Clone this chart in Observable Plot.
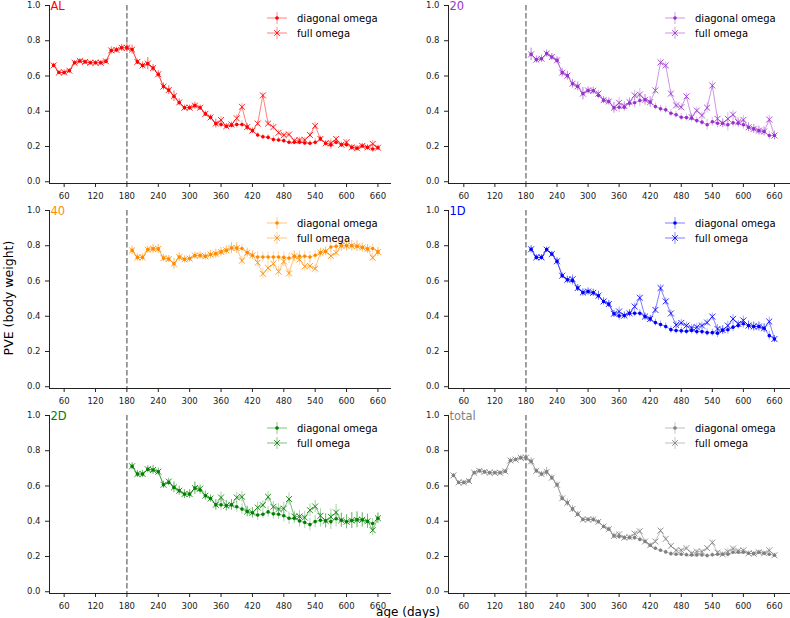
<!DOCTYPE html>
<html><head><meta charset="utf-8">
<script src="https://cdn.jsdelivr.net/npm/d3@7"></script>
<script src="https://cdn.jsdelivr.net/npm/@observablehq/plot@0.6"></script>
<style>
body{margin:0;background:#fff;font-family:"DejaVu Sans",sans-serif;}
#fig{position:relative;width:790px;height:618px;overflow:hidden;}
.panel{position:absolute;}
#ylab{position:absolute;left:8px;top:298px;transform:translate(-50%,-50%) rotate(-90deg);font-size:12.5px;line-height:13px;white-space:nowrap;color:#000;}
#xlab{position:absolute;left:408px;top:611.5px;transform:translate(-50%,-50%);font-size:12px;line-height:11px;white-space:nowrap;color:#000;}
</style></head><body><div id="fig"><div id="ylab">PVE (body weight)</div><div id="xlab">age (days)</div></div>
<script>
const agesAll = [40,50,60,70,80,90,100,110,120,130,140,150,160,170,180,190,200,210,220,230,240,250,260,270,280,290,300,310,320,330,340,350,360,370,380,390,400,410,420,430,440,450,460,470,480,490,500,510,520,530,540,550,560,570,580,590,600,610,620,630,640,650,660];
const agesLate = [190,200,210,220,230,240,250,260,270,280,290,300,310,320,330,340,350,360,370,380,390,400,410,420,430,440,450,460,470,480,490,500,510,520,530,540,550,560,570,580,590,600,610,620,630,640,650,660];
const xTicks = [60,120,180,240,300,360,420,480,540,600,660];
const yTicks = [0,0.2,0.4,0.6,0.8,1.0];
const seriesNames = ["diagonal omega","full omega"];

const diagAL = [.66,.62,.62,.63,.675,.685,.68,.675,.675,.675, .683,.745,.748,.76,.76,.75,.68,.66,.67,.645, .61,.54,.52,.485,.45,.42,.42,.432,.42,.385, .365,.33,.325,.315,.32,.325,.325,.31,.29,.265, .255,.252,.24,.237,.233,.224,.224,.224,.22,.218, .224,.243,.218,.209,.224,.21,.21,.195,.19,.203, .195,.186,.193];
const fullAL = [.66,.62,.62,.63,.675,.685,.68,.675,.675,.675, .683,.745,.748,.76,.76,.75,.68,.66,.67,.645, .61,.54,.52,.485,.45,.42,.42,.432,.42,.385, .365,.33,.35,.315,.325,.36,.425,.31,.29,.33, .49,.33,.31,.278,.265,.268,.233,.237,.237,.265, .317,.243,.218,.218,.243,.21,.224,.195,.19,.203, .195,.215,.193];
const errAL = [.012,.01,.015,.012,.012,.012,.01,.01,.012,.012, .012,.02,.015,.02,.025,.025,.015,.02,.035,.02, .02,.02,.025,.03,.02,.015,.015,.02,.015,.015, .015,.025,.02,.015,.015,.02,.02,.02,.015,.015, .015,.015,.02,.015,.015,.015,.015,.015,.015,.015, .02,.015,.015,.025,.015,.015,.015,.015,.015,.015, .015,.02,.015];

const diag20 = [.723,.693,.698,.727,.708,.689,.619,.602,.556,.541, .50,.518,.516,.49,.463,.455,.42,.423,.423,.446, .448,.461,.465,.452,.427,.414,.408,.389,.38,.366, .364,.36,.347,.338,.323,.34,.332,.332,.323,.334, .332,.323,.309,.30,.29,.285,.262,.262];
const full20 = [.723,.693,.698,.727,.708,.689,.619,.602,.556,.541, .50,.518,.516,.50,.463,.455,.42,.448,.43,.452, .49,.495,.465,.452,.518,.677,.66,.50,.433,.423, .484,.366,.404,.376,.42,.546,.357,.332,.357,.381, .338,.351,.309,.30,.29,.285,.353,.262];
const err20 = [.035,.02,.02,.02,.02,.02,.025,.025,.025,.025, .035,.02,.02,.02,.02,.02,.03,.03,.025,.025, .03,.035,.03,.03,.02,.02,.02,.02,.02,.02, .02,.02,.02,.02,.03,.025,.025,.025,.035,.025, .025,.025,.025,.025,.025,.025,.025,.025];

const diag40 = [.774,.734,.734,.778,.782,.782,.73,.725,.698,.736, .723,.727,.744,.744,.74,.75,.755,.765,.774,.787, .787,.784,.761,.746,.736,.736,.736,.736,.736,.734, .73,.74,.74,.74,.736,.746,.761,.768,.793,.797, .80,.80,.80,.797,.79,.782,.784,.765];
const full40 = [.774,.734,.734,.778,.782,.782,.73,.725,.698,.736, .723,.727,.744,.744,.74,.75,.755,.765,.774,.787, .787,.715,.761,.746,.704,.641,.674,.698,.653,.711, .643,.74,.721,.683,.685,.67,.761,.768,.742,.761, .80,.80,.80,.797,.79,.782,.732,.765];
const err40 = [.025,.02,.02,.02,.025,.025,.02,.02,.03,.025, .02,.02,.02,.02,.02,.025,.025,.025,.025,.03, .03,.025,.025,.025,.03,.03,.03,.03,.03,.03, .03,.03,.03,.03,.03,.025,.025,.025,.03,.03, .03,.03,.03,.03,.025,.025,.025,.025];

const diag1D = [.78,.734,.734,.778,.753,.712,.63,.607,.602,.56, .535,.54,.533,.516,.484,.469,.414,.402,.404,.417, .417,.417,.398,.385,.364,.353,.342,.324,.319,.317, .315,.319,.313,.313,.307,.307,.304,.321,.323,.338, .347,.357,.347,.342,.342,.332,.29,.271];
const full1D = [.78,.734,.734,.778,.753,.712,.63,.607,.61,.56, .535,.54,.533,.516,.484,.469,.414,.427,.404,.417, .455,.505,.398,.385,.436,.56,.484,.416,.351,.362, .347,.334,.338,.347,.364,.398,.328,.321,.347,.385, .357,.376,.347,.342,.342,.332,.37,.271];
const err1D = [.02,.015,.015,.015,.015,.02,.015,.02,.025,.02, .02,.02,.02,.025,.02,.02,.02,.025,.02,.02, .02,.02,.02,.02,.02,.02,.02,.02,.02,.02, .02,.02,.02,.02,.02,.02,.025,.025,.025,.025, .02,.025,.025,.025,.025,.025,.025,.02];

const diag2D = [.712,.668,.668,.695,.691,.681,.607,.62,.592,.573, .554,.554,.588,.577,.545,.529,.493,.493,.488,.493, .482,.469,.455,.448,.435,.44,.453,.442,.44,.431, .417,.417,.402,.393,.381,.398,.406,.402,.398,.414, .406,.397,.404,.408,.408,.40,.387,.417];
const full2D = [.712,.668,.668,.695,.691,.681,.607,.625,.592,.573, .554,.554,.588,.585,.545,.529,.493,.535,.488,.493, .535,.539,.455,.448,.478,.491,.539,.482,.469,.472, .526,.427,.427,.421,.463,.484,.431,.402,.425,.45, .406,.397,.404,.408,.408,.40,.349,.417];
const err2D = [.02,.02,.02,.02,.025,.02,.02,.02,.03,.025, .025,.025,.035,.025,.025,.02,.03,.03,.03,.03, .03,.03,.03,.03,.03,.025,.03,.03,.03,.035, .035,.03,.035,.035,.035,.035,.04,.04,.045,.045, .04,.04,.045,.045,.04,.04,.03,.03];

const diagTotal = [.66,.62,.62,.628,.675,.686,.68,.675,.675,.675, .683,.745,.75,.76,.76,.74,.686,.668,.68,.647, .607,.53,.505,.47,.44,.41,.41,.41,.397,.37, .355,.317,.313,.307,.307,.307,.297,.285,.264,.247, .235,.226,.216,.213,.213,.21,.209,.209,.209,.205, .21,.213,.213,.213,.224,.224,.224,.218,.216,.224, .218,.213,.207];
const fullTotal = [.66,.62,.62,.628,.675,.686,.68,.675,.675,.675, .683,.745,.75,.76,.76,.74,.686,.668,.68,.647, .607,.53,.505,.47,.44,.41,.41,.41,.397,.37, .355,.317,.326,.307,.31,.33,.343,.285,.264,.285, .347,.3,.26,.235,.235,.247,.218,.228,.228,.247, .279,.222,.213,.228,.245,.232,.235,.218,.216,.224, .218,.235,.207];
const errTotal = [.01,.01,.012,.01,.01,.01,.01,.01,.01,.01, .01,.015,.012,.015,.02,.02,.012,.015,.025,.015, .015,.015,.02,.02,.015,.012,.012,.015,.012,.012, .012,.015,.015,.012,.012,.015,.015,.012,.012,.012, .012,.012,.015,.012,.012,.012,.012,.012,.012,.012, .015,.012,.012,.02,.012,.012,.012,.012,.012,.012, .012,.015,.012];

const panels = [
  {name:"AL", color:"#ff0000", ages:agesAll, diag:diagAL, full:fullAL, err:errAL, col:0, row:0},
  {name:"20", color:"#9932cc", ages:agesLate, diag:diag20, full:full20, err:err20, col:1, row:0},
  {name:"40", color:"#ff8c00", ages:agesLate, diag:diag40, full:full40, err:err40, col:0, row:1},
  {name:"1D", color:"#0000ff", ages:agesLate, diag:diag1D, full:full1D, err:err1D, col:1, row:1},
  {name:"2D", color:"#008000", ages:agesLate, diag:diag2D, full:full2D, err:err2D, col:0, row:2},
  {name:"total", color:"#808080", ages:agesAll, diag:diagTotal, full:fullTotal, err:errTotal, col:1, row:2}
];

const fig = document.getElementById("fig");
for (const p of panels) {
  const data = p.ages.map((a,i)=>({age:a, d:p.diag[i], f:p.full[i], e:p.err[i]}));
  const left = p.col === 0;
  const svg = Plot.plot({
    width: 395, height: 205,
    marginLeft: left ? 49 : 53, marginRight: left ? 5 : 0,
    marginTop: 5, marginBottom: 22,
    style: {fontFamily: "DejaVu Sans", fontSize: "8.5px", overflow: "visible", background: "transparent", color: "#222"},
    x: {domain: left ? [32,684] : [30.4,691], ticks: xTicks, tickSize: 4, tickFormat: d=>String(d), label: null, line: true},
    y: {domain: [-0.01, 1.0], ticks: yTicks, tickFormat: ".1f", tickSize: 4, label: null, line: true},
    marks: [
      Plot.ruleX([180], {stroke:"#808080", strokeWidth:1.5, strokeDasharray:"5.5,2.5"}),
      Plot.ruleX(data, {x:"age", y1:d=>d.d-d.e, y2:d=>d.d+d.e, stroke:p.color, strokeOpacity:0.35, strokeWidth:1}),
      Plot.ruleX(data, {x:"age", y1:d=>d.f-d.e, y2:d=>d.f+d.e, stroke:p.color, strokeOpacity:0.35, strokeWidth:1}),
      Plot.line(data, {x:"age", y:"d", stroke:p.color, strokeOpacity:0.5, strokeWidth:1}),
      Plot.line(data, {x:"age", y:"f", stroke:p.color, strokeOpacity:0.5, strokeWidth:1}),
      Plot.dot(data, {x:"age", y:"d", r:1.8, fill:p.color, stroke:null}),
      Plot.dot(data, {x:"age", y:"f", symbol:"times", r:2.8, stroke:p.color, strokeOpacity:0.85, strokeWidth:1}),
      Plot.text([p.name], {frameAnchor:"top-left", lineAnchor:"middle", textAnchor:"start", dx:1, dy:1, fill:p.color, fontSize:11.5, text:d=>d})
    ]
  });
  svg.classList.add("panel");
  svg.style.left = (left ? 0 : 395) + "px";
  svg.style.top = (p.row * 205) + "px";
  // legend
  const g = d3.select(svg).append("g").attr("text-anchor", "start");
  const mx = left ? 277 : 280;
  seriesNames.forEach((lab, i) => {
    const y = 18 + i*15;
    g.append("line").attr("x1", mx-10).attr("x2", mx+10).attr("y1", y).attr("y2", y)
      .attr("stroke", p.color).attr("stroke-opacity", 0.5);
    g.append("line").attr("x1", mx).attr("x2", mx).attr("y1", y-6).attr("y2", y+6)
      .attr("stroke", p.color).attr("stroke-opacity", 0.45);
    if (i === 0) {
      g.append("circle").attr("cx", mx).attr("cy", y).attr("r", 1.8).attr("fill", p.color);
    } else {
      g.append("path").attr("d", `M${mx-2.8},${y-2.8}L${mx+2.8},${y+2.8}M${mx-2.8},${y+2.8}L${mx+2.8},${y-2.8}`)
        .attr("stroke", p.color).attr("stroke-opacity", 0.85).attr("fill", "none");
    }
    g.append("text").attr("x", mx+20).attr("y", y).attr("dy", "0.35em")
      .attr("style", "font-size:10px;font-family:'DejaVu Sans';text-anchor:start;fill:#000")
      .text(lab);
  });
  fig.appendChild(svg);
}
</script>
</body></html>
